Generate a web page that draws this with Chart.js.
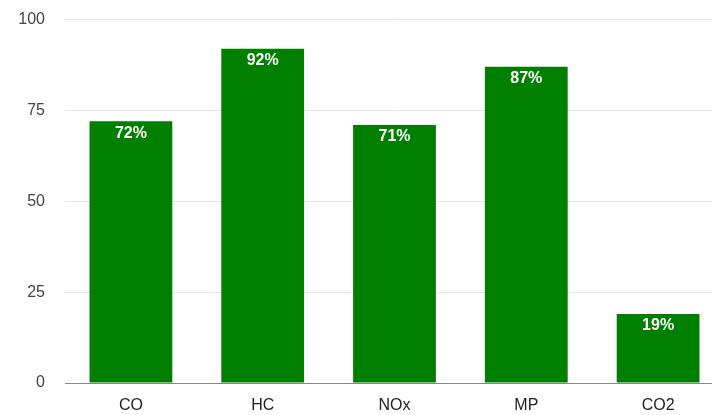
<!DOCTYPE html>
<html>
<head>
<meta charset="utf-8">
<script src="https://cdn.jsdelivr.net/npm/chart.js@4"></script>
<style>
  html, body { margin: 0; padding: 0; background: #fff; overflow: hidden; }
  #wrap { position: relative; top: -10px; width: 724px; height: 425px; }
</style>
</head>
<body>
<div id="wrap"><canvas id="chart"></canvas></div>
<script>
const categories = ['CO', 'HC', 'NOx', 'MP', 'CO2'];
const reduction = [72, 92, 71, 87, 19];
const yTicks = [0, 25, 50, 75, 100];

// writes the value in white just inside the top of each bar
const barLabels = {
  id: 'barLabels',
  afterDatasetsDraw(chart) {
    const ctx = chart.ctx;
    const meta = chart.getDatasetMeta(0);
    ctx.save();
    ctx.fillStyle = '#ffffff';
    ctx.font = 'bold 16px "Liberation Sans", Arial, sans-serif';
    ctx.textAlign = 'center';
    ctx.textBaseline = 'top';
    meta.data.forEach((bar, i) => {
      ctx.fillText(reduction[i] + '%', bar.x, bar.y + 4);
    });
    ctx.restore();
  }
};

new Chart(document.getElementById('chart'), {
  type: 'bar',
  data: {
    labels: categories,
    datasets: [{
      data: reduction,
      backgroundColor: '#007f00',
      borderWidth: 0,
      categoryPercentage: 1,
      barPercentage: 0.628
    }]
  },
  options: {
    responsive: true,
    maintainAspectRatio: false,
    animation: false,
    layout: { padding: 0 },
    plugins: { legend: { display: false }, tooltip: { enabled: false } },
    scales: {
      x: {
        grid: { display: false, drawTicks: false },
        border: { color: '#888', width: 1 },
        ticks: {
          color: '#222',
          padding: 13,
          font: { family: '"Liberation Sans", Arial, sans-serif', size: 16 }
        },
        afterFit(scale) { scale.height = 32; }
      },
      y: {
        min: 0,
        max: 100,
        afterBuildTicks(scale) { scale.ticks = yTicks.map(v => ({ value: v })); },
        grid: { color: '#e6e6e6', drawTicks: false },
        border: { display: false },
        ticks: {
          color: '#444',
          padding: 20,
          font: { family: '"Liberation Sans", Arial, sans-serif', size: 16 }
        },
        afterFit(scale) { scale.width = 65; }
      }
    }
  },
  plugins: [barLabels]
});
</script>
</body>
</html>
